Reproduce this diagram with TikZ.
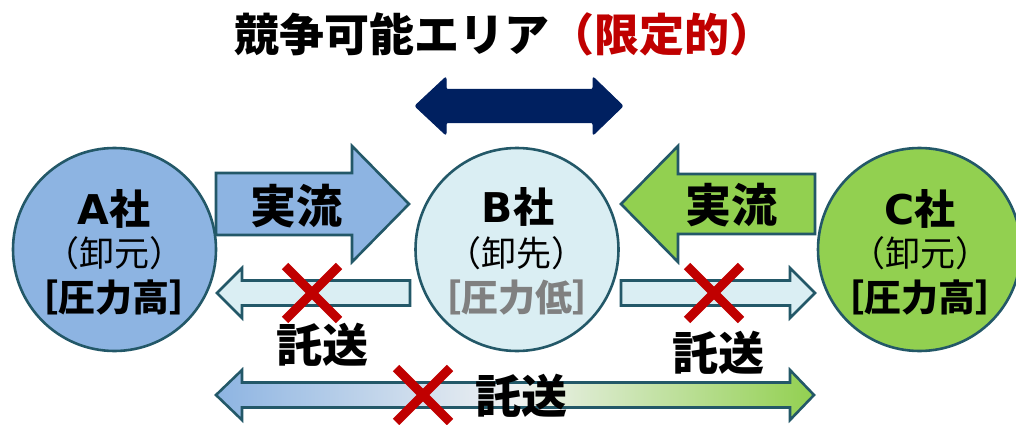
\documentclass[tikz,border=0pt]{standalone}
\usepackage{fontspec}
\newfontfamily\jp{Noto Sans CJK JP}
\newfontfamily\lat{DejaVu Sans}
\definecolor{tealline}{RGB}{35,88,104}
\definecolor{fillA}{RGB}{141,180,226}
\definecolor{fillB}{RGB}{218,238,243}
\definecolor{fillC}{RGB}{146,208,80}
\definecolor{xred}{RGB}{192,0,0}
\definecolor{navy}{RGB}{0,32,96}
\definecolor{gray1}{RGB}{128,128,128}
\definecolor{midlight}{RGB}{240,242,242}
\newcommand\rblock[7]{%
  \draw[#1] (#2,#5-#6) -- (#3,#5-#6) -- (#3,#5-#7) -- (#4,#5) -- (#3,#5+#7) -- (#3,#5+#6) -- (#2,#5+#6) -- cycle;}
\newcommand\dblock[8]{%
  \draw[#1] (#2,#6) -- (#3,#6-#8) -- (#3,#6-#7) -- (#4,#6-#7) -- (#4,#6-#8) -- (#5,#6) -- (#4,#6+#8) -- (#4,#6+#7) -- (#3,#6+#7) -- (#3,#6+#8) -- cycle;}
\begin{document}
\begin{tikzpicture}[x=1pt,y=-1pt,
  outl/.style={draw=tealline, line width=2.6pt, line join=miter},
  circ/.style={circle, outl, minimum size=203pt, inner sep=0pt},
  xmark/.style={draw=xred, line width=9pt},
  bigtxt/.style={font=\jp\bfseries\fontsize{46}{50}\selectfont, inner sep=0pt},
  comptxt/.style={font=\fontsize{41}{44}\selectfont, inner sep=0pt},
  roletxt/.style={font=\jp\fontsize{35}{38}\selectfont, inner sep=0pt},
  presstxt/.style={font=\jp\bfseries\fontsize{37}{40}\selectfont, inner sep=0pt}]
\useasboundingbox (0,0) rectangle (1016,425);
\clip (0,0) rectangle (1016,425);
% title
\node[font=\jp\bfseries\fontsize{45}{50}\selectfont, inner sep=0pt] (title) at (504,34) {競争可能エリア\textcolor{xred}{（限定的）}};
% navy double arrow
\dblock{fill=navy, draw=navy, line width=1pt, rounded corners=2pt}{415}{446}{593}{623}{106}{16.5}{29}
% circles
\node[circ, fill=fillA] (A) at (114.5,249.5) {};
\node[circ, fill=fillB] (B) at (517,249.5) {};
\node[circ, fill=fillC] (C) at (919.5,249.5) {};
% circle texts
\node[comptxt] (An) at (114,209) {{\lat\bfseries A}{\jp\bfseries 社}};
\node[roletxt] (Ar) at (114,253) {（卸元）};
\node[presstxt] (Ap) at (114,298) {［圧力高］};
\node[comptxt] (Bn) at (518,207) {{\lat\bfseries B}{\jp\bfseries 社}};
\node[roletxt] (Br) at (516,253) {（卸先）};
\node[presstxt, text=gray1] (Bp) at (517,298) {［圧力低］};
\node[comptxt] (Cn) at (920,209) {{\lat\bfseries C}{\jp\bfseries 社}};
\node[roletxt] (Cr) at (920,253) {（卸元）};
\node[presstxt] (Cp) at (920,298) {［圧力高］};
% flow arrows
\rblock{outl, fill=fillA}{216}{352}{409}{204}{31}{58}
\rblock{outl, fill=fillC}{815}{678}{621}{204}{30}{58}
\node[bigtxt] (fA) at (296,206) {実流};
\node[bigtxt] (fC) at (731,205) {実流};
% light arrows
\rblock{outl, fill=fillB}{410}{242}{217}{293}{12.5}{25}
\rblock{outl, fill=fillB}{621}{790}{815}{293}{12.5}{25}
% bottom gradient arrow
\dblock{outl, left color=fillA, right color=fillC, middle color=midlight}{216}{242}{790}{814}{395}{12.5}{25}
% labels
\node[bigtxt] (tA) at (322,345) {託送};
\node[bigtxt] (tC) at (718,353) {託送};
\node[bigtxt] (tB) at (521,396) {託送};
% red crosses
\draw[xmark] (285,266) -- (339,320);
\draw[xmark] (285,320) -- (339,266);
\draw[xmark] (687,266) -- (741,320);
\draw[xmark] (687,320) -- (741,266);
\draw[xmark] (396,368) -- (450,422);
\draw[xmark] (396,422) -- (450,368);
\end{tikzpicture}
\end{document}
